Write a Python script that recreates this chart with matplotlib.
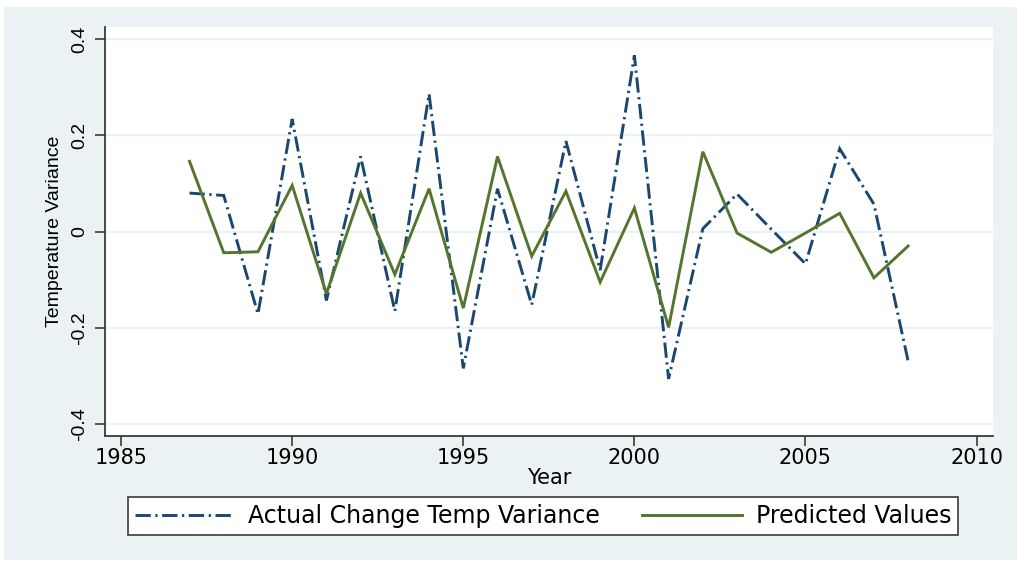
import matplotlib
matplotlib.use("Agg")
import matplotlib.pyplot as plt
from matplotlib.patches import Rectangle

years = list(range(1987, 2009))
actual = [0.080, 0.075, -0.171, 0.234, -0.143, 0.156, -0.165, 0.286, -0.284, 0.089,
          -0.152, 0.188, -0.080, 0.366, -0.306, 0.006, 0.078, 0.005, -0.067, 0.172,
          0.057, -0.269]
predicted = [0.146, -0.044, -0.042, 0.096, -0.129, 0.080, -0.089, 0.089, -0.159, 0.156,
             -0.051, 0.084, -0.105, 0.049, -0.199, 0.166, -0.003, -0.043, -0.003, 0.038,
             -0.096, -0.030]
xticks = [1985, 1990, 1995, 2000, 2005, 2010]
yticks = [-0.4, -0.2, 0, 0.2, 0.4]
yticklabels = ["-0.4", "-0.2", "0", "0.2", "0.4"]

NAVY = "#1A476F"
GREEN = "#55752F"
BG = "#EAF2F3"
AXC = "#3a3a3a"

plt.rcParams['font.family'] = ['DejaVu Sans']
plt.rcParams['lines.scale_dashes'] = False
YFONT = ['Liberation Sans', 'DejaVu Sans']

W, H = 1024, 567
fig = plt.figure(figsize=(W / 100, H / 100), dpi=100)
fig.patch.set_facecolor("white")
fig.add_artist(Rectangle((4 / W, 1 - 560 / H), (1017 - 4) / W, (560 - 7) / H,
                         transform=fig.transFigure, facecolor=BG, edgecolor="none", zorder=-10))

ax = fig.add_axes([105 / W, 1 - 435.7 / H, (993 - 105) / W, (435.7 - 27) / H])
ax.set_facecolor("white")
ax.set_xlim(1984.53, 2010.48)
ax.set_ylim(-0.424, 0.425)

for y in yticks:
    ax.axhline(y, color=BG, lw=1.6, zorder=0)

l1, = ax.plot(years, actual, color=NAVY, lw=2.1, dashes=(11, 3.3, 1.6, 3.3),
              solid_joinstyle="miter", dash_joinstyle="miter",
              label="Actual Change Temp Variance", zorder=3)
l2, = ax.plot(years, predicted, color=GREEN, lw=2.1, solid_joinstyle="miter",
              label="Predicted Values", zorder=4)

for s in ["top", "right"]:
    ax.spines[s].set_visible(False)
for s in ["left", "bottom"]:
    ax.spines[s].set_color(AXC)
    ax.spines[s].set_linewidth(1.3)

ax.set_xticks(xticks)
ax.set_xticklabels([str(x) for x in xticks], fontsize=15)
ax.set_yticks(yticks)
ax.set_yticklabels(yticklabels, rotation=90, va="center", family=YFONT, fontsize=14)
ax.tick_params(axis="both", direction="out", length=7, width=1.2, color=AXC,
               labelcolor="black")
ax.tick_params(axis="x", pad=2)
ax.tick_params(axis="y", pad=5)

ax.set_xlabel("Year", fontsize=15, labelpad=0)
ax.set_ylabel("Temperature Variance", fontsize=14, labelpad=6, family=YFONT)

leg = fig.legend(handles=[l1, l2], loc="upper left",
                 bbox_to_anchor=(127.6 / W, 1 - 497 / H),
                 ncol=2, fontsize=17, frameon=True, fancybox=False, framealpha=1,
                 handlelength=4.2, handletextpad=0.6, columnspacing=1.8,
                 borderaxespad=0, borderpad=0.3)
leg.get_frame().set_edgecolor(AXC)
leg.get_frame().set_linewidth(1.2)
leg.get_frame().set_facecolor("white")

fig.savefig("out.png", dpi=100, facecolor=fig.get_facecolor())
